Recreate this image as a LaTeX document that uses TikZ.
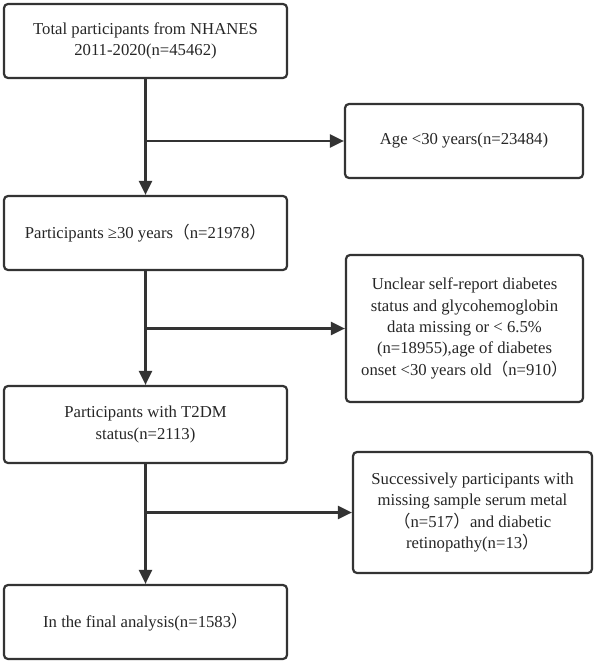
\documentclass[tikz,border=0pt]{standalone}
\usepackage{fontspec}
\setmainfont{Liberation Serif}
\newfontfamily\cjkfont{Noto Sans CJK SC}
\newcommand\fwl{{\cjkfont （}}
\newcommand\fwr{{\cjkfont ）}}
\usetikzlibrary{arrows.meta}
\definecolor{linegray}{HTML}{333333}
\tikzset{
  box/.style={draw=linegray, line width=2.2pt, rounded corners=4pt, align=center,
    font=\fontsize{16.7}{21.3}\selectfont, inner sep=2pt, text=black!85},
  flow/.style={draw=linegray, line width=2.4pt, -{Triangle[length=14pt,width=13pt]}},
}
\begin{document}
\begin{tikzpicture}[x=1pt,y=-1pt]
\useasboundingbox (0,0) rectangle (594,663);
\node[box, minimum width=283pt, minimum height=74pt] (b1) at (145.5,41) {Total participants from NHANES\\2011-2020(n=45462)};
\node[box, minimum width=238pt, minimum height=74pt] (b2) at (464,141) {Age <30 years(n=23484)};
\node[box, minimum width=283pt, minimum height=74pt] (b3) at (145.5,233) {Participants ≥30 years\fwl n=21978\fwr};
\node[box, minimum width=237pt, minimum height=147pt] (b4) at (464.5,328.5) {Unclear self-report diabetes\\status and glycohemoglobin\\data missing or < 6.5\%\\(n=18955),age of diabetes\\onset <30 years old\fwl n=910\fwr};
\node[box, minimum width=283pt, minimum height=77pt] (b5) at (145.5,424.5) {Participants with T2DM\\status(n=2113)};
\node[box, minimum width=239pt, minimum height=121pt] (b6) at (472.5,512.5) {Successively participants with\\missing sample serum metal\\\fwl n=517\fwr and diabetic\\retinopathy(n=13\fwr};
\node[box, minimum width=283pt, minimum height=74pt] (b7) at (145.5,622) {In the final analysis(n=1583\fwr};
\draw[flow] (b1.south) -- (b3.north);
\draw[flow] (b3.south) -- (b5.north);
\draw[flow] (b5.south) -- (b7.north);
\coordinate (j1) at (b2.west -| b1.south);
\coordinate (j2) at (b4.west -| b1.south);
\coordinate (j3) at (b6.west -| b1.south);
\draw[flow] (j1) -- (b2.west);
\draw[flow] (j2) -- (b4.west);
\draw[flow] (j3) -- (b6.west);
\end{tikzpicture}
\end{document}
